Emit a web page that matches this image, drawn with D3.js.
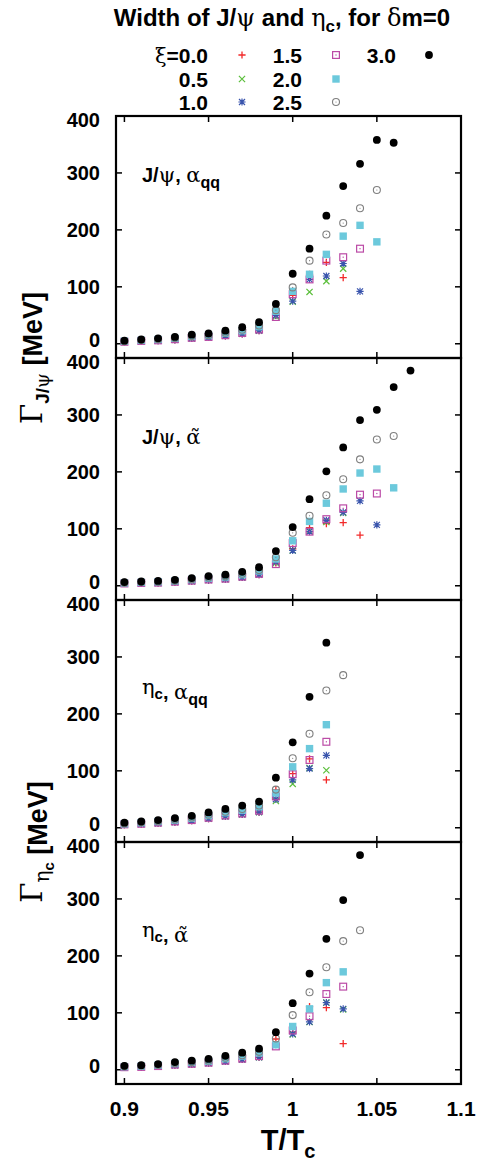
<!DOCTYPE html>
<html>
<head>
<meta charset="utf-8">
<script src="https://cdn.jsdelivr.net/npm/d3@7"></script>
<style>
  html, body { margin: 0; padding: 0; background: #fff; }
  svg { display: block; }
</style>
</head>
<body>
<svg id="chart" width="489" height="1162"></svg>
<script>
// Temperatures T/Tc at which the widths were computed
const temps = [0.90, 0.91, 0.92, 0.93, 0.94, 0.95, 0.96, 0.97, 0.98,
               0.99, 1.00, 1.01, 1.02, 1.03, 1.04, 1.05, 1.06, 1.07];

// Anisotropy parameter values (legend order)
const xiLabels = ["0.0", "0.5", "1.0", "1.5", "2.0", "2.5", "3.0"];

// Widths in MeV, one row per xi (0.0 ... 3.0), aligned with temps; null = no point
const jpsiAqq = [
  [3.5, 4.5, 5.5, 7, 9.5, 11, 14, 17.5, 23, 50, 85, 122, 143, 116, null, null, null, null],
  [3.5, 4.5, 5.5, 7, 9.5, 11, 14, 17.5, 23, 48, 74, 91, 110, 132, null, null, null, null],
  [3.5, 4.5, 5.5, 7, 9.5, 11, 14, 17.5, 23, 50, 75, 113, 119, 141, 92, null, null, null],
  [3.5, 5, 6, 8, 10.5, 12, 15, 19, 25, 47, 87, 113, 146, 152, 167, null, null, null],
  [4.5, 6, 7.5, 9.5, 13, 14.5, 18.5, 23, 30, 57, 92, 122, 157, 189, 208, 179, null, null],
  [4.5, 6.5, 8, 10, 13.5, 15, 19.5, 24.5, 32, 59, 99, 146, 192, 212, 238, 270, null, null],
  [5.5, 7.5, 9.5, 12, 16, 18, 23, 29, 38, 70, 123, 167, 225, 277, 316, 358, 353, null]
];
const jpsiAtilde = [
  [4, 4.5, 5, 6.5, 8, 10, 11.5, 14.5, 19.5, 40, 65, 102, 109, 111, 89, null, null, null],
  [4, 4.5, 5, 6.5, 8, 10, 11.5, 14.5, 19.5, 40, 62, 96, 112, 128, null, null, null, null],
  [4, 4.5, 5, 6.5, 8, 10, 11.5, 14.5, 19.5, 42, 62, 95, 115, 129, 149, 107, null, null],
  [4, 5, 5.5, 7, 9, 11, 12.5, 16, 21, 38, 75, 95, 117, 136, 160, 162, null, null],
  [5, 6, 7, 8.5, 11, 13.5, 15.5, 19.5, 26, 47, 79, 113, 145, 170, 198, 205, 172, null],
  [5.5, 6.5, 7, 9, 11.5, 14.5, 16.5, 21, 27.5, 50, 93, 123, 159, 187, 222, 257, 263, null],
  [6.5, 7.5, 8.5, 10.5, 13.5, 17, 19.5, 24.5, 32.5, 61, 103, 152, 201, 243, 291, 309, 349, 378]
];
const etacAqq = [
  [5.5, 6.5, 8, 10, 12.5, 16, 20, 23.5, 27.5, 67, 95, 121, 84, null, null, null, null, null],
  [5.5, 6.5, 8, 10, 12.5, 16, 20, 23.5, 27.5, 47, 77, 105, 101, null, null, null, null, null],
  [5.5, 6.5, 8, 10, 12.5, 16, 20, 23.5, 27.5, 50, 84, 104, 127, null, null, null, null, null],
  [6, 7, 9, 11, 13.5, 17.5, 21.5, 25, 30, 55, 94, 119, 151, null, null, null, null, null],
  [7, 9, 11, 13.5, 17, 21.5, 26.5, 31, 37, 61, 107, 139, 181, null, null, null, null, null],
  [7.5, 9.5, 11.5, 14.5, 18, 23, 28, 33, 39, 67, 122, 165, 241, 268, null, null, null, null],
  [9, 11, 13.5, 17, 21, 27, 33, 39, 46, 88, 150, 230, 325, null, null, null, null, null]
];
const etacAtilde = [
  [4, 5, 6, 8, 9.5, 11.5, 14.5, 18, 22, 54, 66, 111, 109, 46, null, null, null, null],
  [4, 5, 6, 8, 9.5, 11.5, 14.5, 18, 22, 44, 62, 84, 118, 106, null, null, null, null],
  [4, 5, 6, 8, 9.5, 11.5, 14.5, 18, 22, 44, 63, 84, 118, 107, null, null, null, null],
  [4.5, 5, 6.5, 9, 10.5, 12.5, 16, 19.5, 24, 41, 69, 94, 133, 146, null, null, null, null],
  [5.5, 6.5, 8, 11, 13, 15, 19.5, 24, 29.5, 44, 76, 107, 153, 172, null, null, null, null],
  [6, 7, 8.5, 11.5, 13.5, 16, 21, 25.5, 31.5, 55, 96, 136, 180, 226, 245, null, null, null],
  [7, 8, 10, 13.5, 16, 19, 24.5, 30, 37, 66, 117, 169, 230, 298, 377, null, null, null]
];

const xTicks = [0.9, 0.95, 1.0, 1.05, 1.1];
const xTickLabels = ["0.9", "0.95", "1", "1.05", "1.1"];
const yTicks = [0, 100, 200, 300, 400];

const panels = [
  { data: jpsiAqq,    label: "jpsi", coupling: "qq" },
  { data: jpsiAtilde, label: "jpsi", coupling: "tilde" },
  { data: etacAqq,    label: "etac", coupling: "qq" },
  { data: etacAtilde, label: "etac", coupling: "tilde" }
];

// ---- layout ----
const svg = d3.select("#chart");
const SANS = "'Liberation Sans', Arial, Helvetica, sans-serif";
const GREEK = "'DejaVu Serif', 'Liberation Serif', serif";
const plotLeft = 116, plotRight = 461;
const panelTop0 = 116, panelH = 242;
const labelOffsets = [66, 86, 94, 95];

const x = d3.scaleLinear().domain([0.895, 1.1]).range([plotLeft, plotRight]);

// marker style per xi
const colors = ["#f22a2a", "#5cbf3c", "#3a55ad", "#bb4aa6", "#6cc9dc", "#7f7f7f", "#000000"];

function drawMarker(g, k, cx, cy) {
  const c = colors[k];
  const s = 3.6;
  switch (k) {
    case 0: // plus
      g.append("path").attr("d", `M${cx - s},${cy}H${cx + s}M${cx},${cy - s}V${cy + s}`)
        .attr("stroke", c).attr("stroke-width", 1.3).attr("fill", "none");
      break;
    case 1: { // cross
      const t = 3.1;
      g.append("path").attr("d", `M${cx - t},${cy - t}L${cx + t},${cy + t}M${cx - t},${cy + t}L${cx + t},${cy - t}`)
        .attr("stroke", c).attr("stroke-width", 1.2).attr("fill", "none");
      break;
    }
    case 2: { // asterisk
      const t = 3.0;
      g.append("path").attr("d",
        `M${cx - s},${cy}H${cx + s}M${cx},${cy - s}V${cy + s}` +
        `M${cx - t},${cy - t}L${cx + t},${cy + t}M${cx - t},${cy + t}L${cx + t},${cy - t}`)
        .attr("stroke", c).attr("stroke-width", 1.2).attr("fill", "none");
      break;
    }
    case 3: // open box with dot
      g.append("rect").attr("x", cx - 3.4).attr("y", cy - 3.4).attr("width", 6.8).attr("height", 6.8)
        .attr("fill", "none").attr("stroke", c).attr("stroke-width", 1.2);
      g.append("rect").attr("x", cx - 0.6).attr("y", cy - 0.6).attr("width", 1.2).attr("height", 1.2).attr("fill", c);
      break;
    case 4: // filled box
      g.append("rect").attr("x", cx - 3.7).attr("y", cy - 3.7).attr("width", 7.4).attr("height", 7.4).attr("fill", c);
      break;
    case 5: // open circle with dot
      g.append("circle").attr("cx", cx).attr("cy", cy).attr("r", 3.5)
        .attr("fill", "none").attr("stroke", c).attr("stroke-width", 1.1);
      g.append("circle").attr("cx", cx).attr("cy", cy).attr("r", 0.6).attr("fill", c);
      break;
    case 6: // filled circle
      g.append("circle").attr("cx", cx).attr("cy", cy).attr("r", 3.9).attr("fill", c);
      break;
  }
}

panels.forEach((p, i) => {
  const top = panelTop0 + i * panelH;
  const y = d3.scaleLinear().domain([-25, 400]).range([top + panelH, top]);
  const g = svg.append("g");

  // tick marks (inward, mirrored on all sides)
  const tickLen = 6;
  const ticks = g.append("g").attr("stroke", "#000").attr("stroke-width", 1.5);
  yTicks.forEach(v => {
    ticks.append("line").attr("x1", plotLeft).attr("x2", plotLeft + tickLen).attr("y1", y(v)).attr("y2", y(v));
    ticks.append("line").attr("x1", plotRight - tickLen).attr("x2", plotRight).attr("y1", y(v)).attr("y2", y(v));
  });
  xTicks.forEach(v => {
    ticks.append("line").attr("x1", x(v)).attr("x2", x(v)).attr("y1", top).attr("y2", top + tickLen);
    ticks.append("line").attr("x1", x(v)).attr("x2", x(v)).attr("y1", top + panelH).attr("y2", top + panelH - tickLen);
  });

  // y tick labels; the 0 and 400 labels are nudged apart where panels meet
  const nudge = d => (d === 0 ? -4 : d === 400 ? 4 : 0);
  g.append("g").selectAll("text").data(yTicks).join("text")
    .attr("x", 100).attr("y", d => y(d) + nudge(d)).attr("dy", "0.36em")
    .attr("text-anchor", "end").attr("font-family", SANS).attr("font-weight", "bold")
    .attr("font-size", 20).text(d => d);

  // data markers, series drawn in legend order so xi=3.0 ends on top
  const mg = g.append("g");
  p.data.forEach((series, k) => {
    series.forEach((v, j) => {
      if (v === null) return;
      drawMarker(mg, k, x(temps[j]), y(v));
    });
  });

  // frame
  g.append("rect").attr("x", plotLeft).attr("y", top).attr("width", plotRight - plotLeft).attr("height", panelH)
    .attr("fill", "none").attr("stroke", "#000").attr("stroke-width", 2.2);

  // panel label
  const lt = g.append("text").attr("x", 142).attr("y", top + labelOffsets[i])
    .attr("font-family", SANS).attr("font-size", 20).attr("font-weight", "bold");
  if (p.label === "jpsi") {
    lt.append("tspan").text("J/");
    lt.append("tspan").attr("font-family", GREEK).attr("font-weight", "normal").attr("font-size", 21).text("ψ");
  } else {
    lt.append("tspan").attr("font-family", GREEK).attr("font-weight", "normal").attr("font-size", 21).text("η");
    lt.append("tspan").attr("font-size", 15).attr("dy", 5).text("c");
    lt.append("tspan").attr("dy", -5).text("");
  }
  lt.append("tspan").text(", ");
  if (p.coupling === "qq") {
    lt.append("tspan").attr("font-family", GREEK).attr("font-weight", "normal").attr("font-size", 21).text("α");
    lt.append("tspan").attr("font-size", 16).attr("dy", 6).text("qq");
  } else {
    lt.append("tspan").attr("font-family", GREEK).attr("font-weight", "normal").attr("font-size", 21).text("α\u0303");
  }
});

// x tick labels on the bottom panel
const bottom = panelTop0 + 4 * panelH;
svg.append("g").selectAll("text").data(xTicks).join("text")
  .attr("x", d => x(d)).attr("y", bottom + 32).attr("text-anchor", "middle")
  .attr("font-family", SANS).attr("font-weight", "bold").attr("font-size", 21)
  .text((d, i) => xTickLabels[i]);

// x axis title
const xt = svg.append("text").attr("x", 288).attr("y", 1150).attr("text-anchor", "middle")
  .attr("font-family", SANS).attr("font-weight", "bold").attr("font-size", 29);
xt.append("tspan").text("T/T");
xt.append("tspan").attr("font-size", 20).attr("dy", 8).text("c");

// y axis titles, one per meson
function yTitle(cy, meson) {
  const t = svg.append("text").attr("transform", `translate(42,${cy}) rotate(-90)`)
    .attr("text-anchor", "middle").attr("font-family", SANS).attr("font-weight", "bold").attr("font-size", 27);
  t.append("tspan").attr("font-family", GREEK).attr("font-weight", "normal").attr("font-size", 29).text("Γ");
  if (meson === "jpsi") {
    t.append("tspan").attr("font-size", 19).attr("dy", 7).text("J/");
    t.append("tspan").attr("font-size", 19).attr("font-family", GREEK).attr("font-weight", "normal").text("ψ");
  } else {
    t.append("tspan").attr("font-size", 20).attr("dy", 7).attr("font-family", GREEK).attr("font-weight", "normal").text("η");
    t.append("tspan").attr("font-size", 15).attr("dy", 5).text("c");
    t.append("tspan").attr("dy", -5).text("");
  }
  t.append("tspan").attr("dy", -7).text(" [MeV]");
}
yTitle(panelTop0 + panelH, "jpsi");
yTitle(panelTop0 + 3 * panelH, "etac");

// title
const title = svg.append("text").attr("x", 282).attr("y", 26).attr("text-anchor", "middle")
  .attr("font-family", SANS).attr("font-weight", "bold").attr("font-size", 24);
title.append("tspan").text("Width of J/");
title.append("tspan").attr("font-family", GREEK).attr("font-weight", "normal").text("ψ");
title.append("tspan").text(" and ");
title.append("tspan").attr("font-family", GREEK).attr("font-weight", "normal").text("η");
title.append("tspan").attr("font-size", 17).attr("dy", 6).text("c");
title.append("tspan").attr("dy", -6).text(", for ");
title.append("tspan").attr("font-family", GREEK).attr("font-weight", "normal").text("δ");
title.append("tspan").text("m=0");

// legend: three columns of keys
const legendCols = [
  { textX: 208, symX: 242 },
  { textX: 302, symX: 336 },
  { textX: 396, symX: 429 }
];
const legendRows = [55, 79, 102];
xiLabels.forEach((lab, k) => {
  const col = legendCols[Math.floor(k / 3)];
  const cy = legendRows[k % 3];
  const t = svg.append("text").attr("x", col.textX).attr("y", cy).attr("dy", "0.36em")
    .attr("text-anchor", "end").attr("font-family", SANS).attr("font-weight", "bold").attr("font-size", 21);
  if (k === 0) {
    t.append("tspan").attr("font-family", GREEK).attr("font-weight", "normal").text("ξ");
    t.append("tspan").text("=" + lab);
  } else {
    t.text(lab);
  }
  drawMarker(svg.append("g"), k, col.symX, cy);
});
</script>
</body>
</html>
